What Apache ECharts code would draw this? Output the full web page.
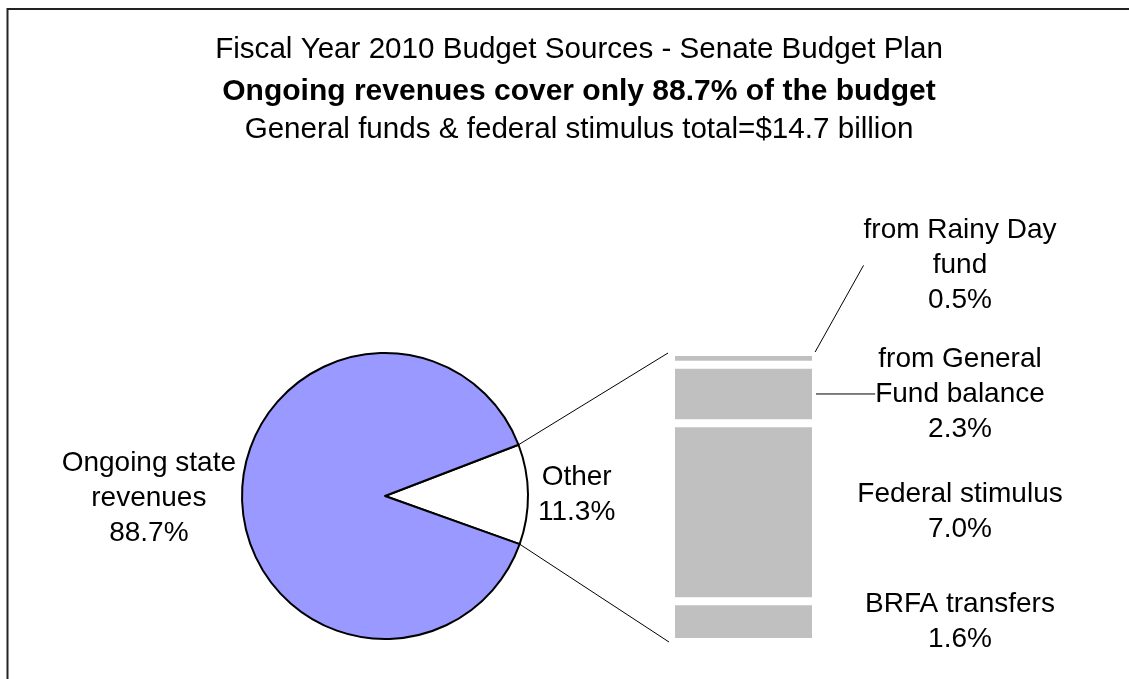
<!DOCTYPE html>
<html><head><meta charset="utf-8">
<script src="https://cdn.jsdelivr.net/npm/echarts@6/dist/echarts.min.js"></script>
<style>html,body{margin:0;padding:0;background:#fff}#c{width:1129px;height:679px}</style>
</head><body><div id="c"></div>
<script>
const titleLines = [
  'Fiscal Year 2010 Budget Sources - Senate Budget Plan',
  'Ongoing revenues cover only 88.7% of the budget',
  'General funds & federal stimulus total=$14.7 billion'
];
const pieNames = ['Other', 'Ongoing state\nrevenues'];
const pieValues = [11.3, 88.7];
const barNames = ['BRFA transfers', 'Federal stimulus', 'from General\nFund balance', 'from Rainy Day\nfund'];
const barValues = [1.6, 7.0, 2.3, 0.5];

const FONT = '"Liberation Sans", Arial, sans-serif';
const chart = echarts.init(document.getElementById('c'), null, {renderer: 'canvas'});
const barTotal = barValues.reduce((a, b) => a + b, 0);
const labelShift = [0, 0, 0, -93];

const barSeries = barNames.map((name, i) => ({
  type: 'bar', name: name, stack: 'other', barWidth: '100%',
  data: [barValues[i]],
  itemStyle: {color: '#C0C0C0', borderColor: '#fff', borderWidth: 4},
  emphasis: {disabled: true},
  label: {
    show: true, position: 'right', color: '#000', fontFamily: FONT, fontSize: 28, lineHeight: 35,
    formatter: name + '\n' + barValues[i].toFixed(1) + '%'
  },
  labelLine: {show: i >= 2, lineStyle: {color: '#000', width: 1}},
  labelLayout: function (p) {
    const right = p.rect.x + p.rect.width;
    const cx = right + 144;
    const cy = p.rect.y + p.rect.height / 2 + labelShift[i];
    const left = cx - p.labelRect.width / 2;
    const res = {x: cx, y: cy, align: 'center', verticalAlign: 'middle'};
    if (i === 3) res.labelLinePoints = [[right + 1, p.rect.y + 6], [left - 8, cy], [left - 3, cy]];
    if (i === 2) res.labelLinePoints = [[right + 1, cy - 1], [(right + left) / 2, cy - 1], [left - 4, cy - 1]];
    return res;
  }
}));

const option = {
  animation: false,
  backgroundColor: '#fff',
  title: titleLines.map((t, i) => ({
    text: t, left: 574, textAlign: 'center', top: [28, 70, 108][i],
    textStyle: {fontFamily: FONT, fontSize: i === 1 ? 30 : 29.6, fontWeight: i === 1 ? 'bold' : 'normal', color: '#000', lineHeight: 34}
  })),
  grid: {left: 671, right: 313, top: 352, bottom: 37},
  xAxis: {type: 'category', data: ['Other'], show: false},
  yAxis: {type: 'value', min: 0, max: barTotal, show: false},
  series: [{
    type: 'pie', center: [385, 496], radius: 143, startAngle: 21, clockwise: true,
    emphasis: {disabled: true},
    data: pieNames.map((n, i) => ({name: n, value: pieValues[i], itemStyle: {color: i === 0 ? '#FFFFFF' : '#9999FF'}})),
    itemStyle: {borderColor: '#000', borderWidth: 2},
    label: {
      show: true, position: 'outside', color: '#000', fontFamily: FONT, fontSize: 28, lineHeight: 35,
      formatter: p => p.name + '\n' + p.value.toFixed(1) + '%'
    },
    labelLine: {show: false},
    labelLayout: function (p) {
      const cy = p.rect.y + p.rect.height / 2;
      if (p.dataIndex === 0) {
        return {x: p.rect.x + p.rect.width + 9 + p.labelRect.width / 2, y: cy, align: 'center', verticalAlign: 'middle'};
      }
      return {x: p.rect.x - 5 - p.labelRect.width / 2, y: cy + 2, align: 'center', verticalAlign: 'middle'};
    }
  }].concat(barSeries),
  graphic: [{
    id: 'frame', type: 'rect', silent: true,
    shape: {x: 7.5, y: 9, width: 1300, height: 900},
    style: {fill: null, stroke: '#222', lineWidth: 2}
  }]
};
chart.setOption(option);

// connector lines from the "Other" slice to the bar
const model = chart.getModel();
const pl = model.getSeriesByIndex(0).getData().getItemLayout(0);
const bTop = model.getSeriesByIndex(4).getData().getItemLayout(0);
const bBot = model.getSeriesByIndex(1).getData().getItemLayout(0);
const topY = Math.min(bTop.y, bTop.y + bTop.height);
const botY = Math.max(bBot.y, bBot.y + bBot.height);
const barLeft = bTop.x;
const a1 = pl.startAngle, a2 = pl.endAngle;
const p1 = [pl.cx + pl.r * Math.cos(a1), pl.cy + pl.r * Math.sin(a1)];
const p2 = [pl.cx + pl.r * Math.cos(a2), pl.cy + pl.r * Math.sin(a2)];
const upper = p1[1] < p2[1] ? p1 : p2, lower = p1[1] < p2[1] ? p2 : p1;
chart.setOption({
  graphic: [
    {id: 'c1', type: 'line', silent: true, shape: {x1: upper[0], y1: upper[1], x2: barLeft - 3, y2: topY + 1}, style: {stroke: '#000', lineWidth: 1}},
    {id: 'c2', type: 'line', silent: true, shape: {x1: lower[0], y1: lower[1], x2: barLeft - 2, y2: botY}, style: {stroke: '#000', lineWidth: 1}}
  ]
});
</script></body></html>
